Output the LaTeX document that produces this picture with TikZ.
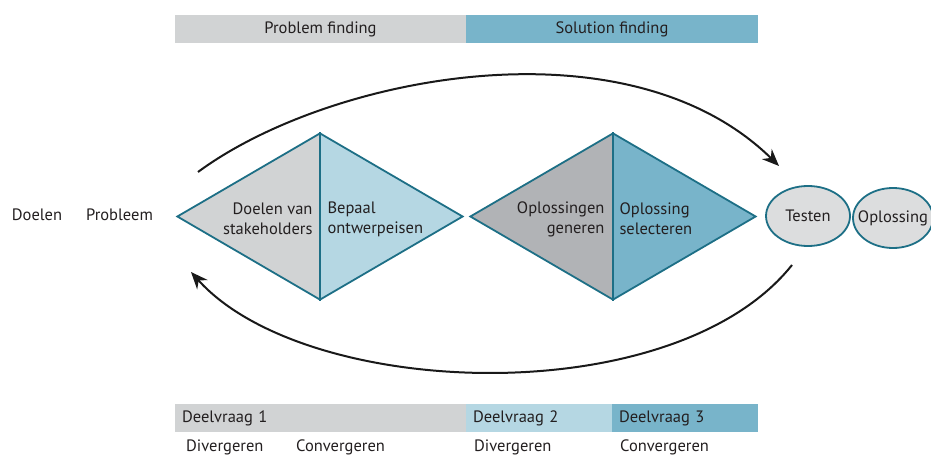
\documentclass[tikz,border=0pt]{standalone}
\usepackage{fontspec}
\setmainfont{PT Sans}
\usepackage{xcolor}
\usetikzlibrary{positioning,arrows.meta,shapes.geometric}

\definecolor{grijs}{HTML}{D1D3D4}
\definecolor{donkergrijs}{HTML}{B1B3B6}
\definecolor{lichtblauw}{HTML}{B5D7E3}
\definecolor{blauw}{HTML}{78B4CA}
\definecolor{petrol}{HTML}{1D6F86}
\definecolor{ovaal}{HTML}{DCDDDE}
\definecolor{tekst}{HTML}{231F20}

\begin{document}
\begin{tikzpicture}[
  x=1pt, y=-1pt,
  every node/.style={text=tekst, font=\fontsize{16.5}{20}\selectfont},
  balk/.style={minimum height=28pt, inner sep=0pt},
  ruit/.style 2 args={
    diamond, draw=petrol, line width=1.8pt,
    minimum width=286pt, minimum height=167pt, inner sep=0pt,
    path picture={
      \fill[#1] (path picture bounding box.south west) rectangle (path picture bounding box.north);
      \fill[#2] (path picture bounding box.north) rectangle (path picture bounding box.south east);
    }
  },
  stap/.style={ellipse, draw=petrol, line width=1.8pt, fill=ovaal,
    minimum width=84pt, minimum height=60pt, inner sep=0pt},
  boog/.style={-{Stealth[length=17pt,width=14pt]}, line width=2pt, black!90}
]
  \useasboundingbox (0,0) rectangle (931,457);

  % --- Balken boven ---
  \node[balk, fill=grijs, minimum width=291pt] (pf) at (320.5,29) {Problem finding};
  \node[balk, fill=blauw, minimum width=292pt] (sf) at (612,29) {Solution finding};

  % --- Ruiten ---
  \node[ruit={grijs}{lichtblauw}] (d1) at (320,216.5) {};
  \draw[petrol, line width=1.8pt] (d1.north) -- (d1.south);
  \node[ruit={donkergrijs}{blauw}] (d2) at (613,216.5) {};
  \draw[petrol, line width=1.8pt] (d2.north) -- (d2.south);

  \node[align=right, anchor=east] (doelvan) at (316,219) {Doelen van\\stakeholders};
  \node[align=left, anchor=west] (bepaal) at (324,219) {Bepaal\\ontwerpeisen};
  \node[align=right, anchor=east] (gen) at (608,219) {Oplossingen\\generen};
  \node[align=left, anchor=west] (sel) at (616,219) {Oplossing\\selecteren};

  % --- Ovalen ---
  \node[stap] (testen) at (808,216) {Testen};
  \node[stap, minimum width=80pt, inner xsep=-8pt] (oplossing) at (893,218) {Oplossing};

  % --- Links ---
  \node (doelen) at (37,215) {Doelen};
  \node (probleem) at (119.5,215) {Probleem};

  % --- Bogen ---
  \coordinate (bovenA) at (198,172);
  \coordinate (bovenB) at (779,166);
  \draw[boog] (bovenA) .. controls (328,76) and (627,17) .. (bovenB);

  \coordinate (onderA) at (792,265);
  \coordinate (onderB) at (191,272);
  \draw[boog] (onderA) .. controls (674,413) and (306,400) .. (onderB);

  % --- Balken onder ---
  \node[balk, fill=grijs, minimum width=291pt, text width=277pt, align=left] (dv1) at (320.5,418) {Deelvraag 1};
  \node[balk, fill=lichtblauw, minimum width=146pt, text width=132pt, align=left] (dv2) at (539,418) {Deelvraag 2};
  \node[balk, fill=blauw, minimum width=146pt, text width=132pt, align=left] (dv3) at (685,418) {Deelvraag 3};

  \node[anchor=west, inner sep=0pt] (div1) at (186,447) {Divergeren};
  \node[anchor=west, inner sep=0pt] (con1) at (296,447) {Convergeren};
  \node[anchor=west, inner sep=0pt] (div2) at (474,447) {Divergeren};
  \node[anchor=west, inner sep=0pt] (con2) at (620,447) {Convergeren};
\end{tikzpicture}
\end{document}
